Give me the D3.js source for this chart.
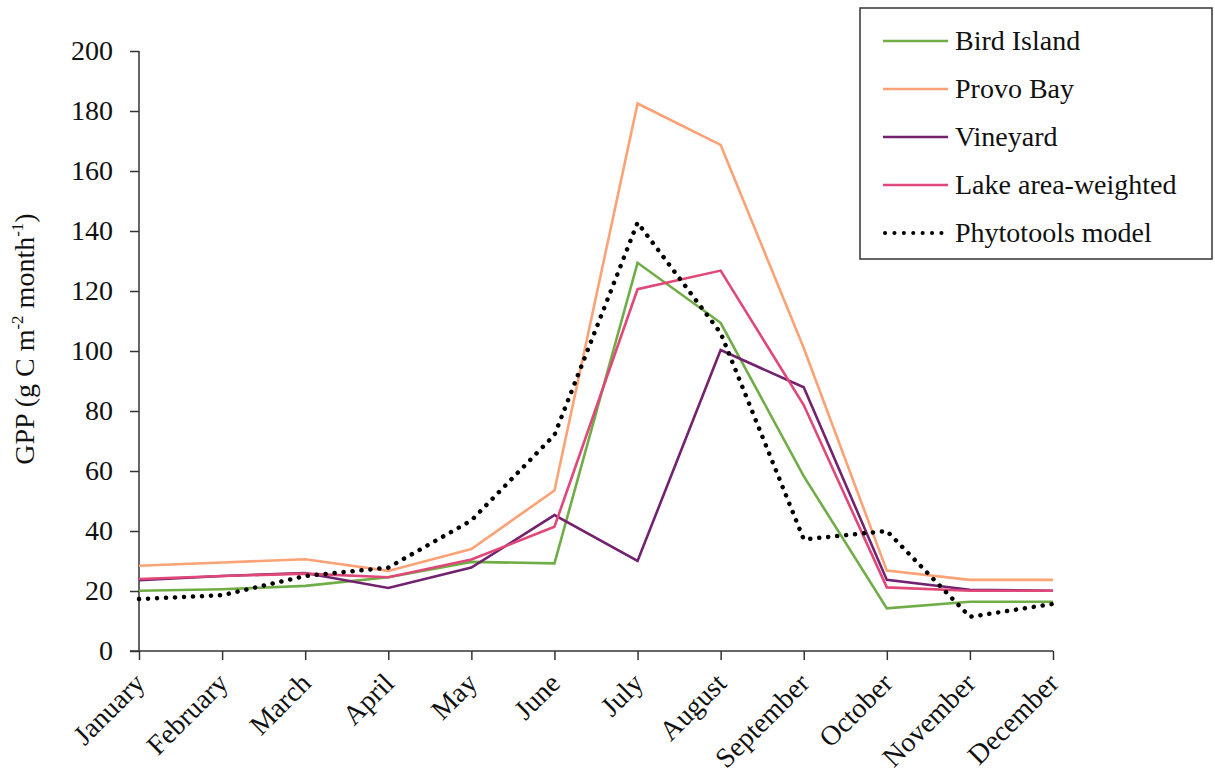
<!DOCTYPE html>
<html>
<head>
<meta charset="utf-8">
<script src="https://cdn.jsdelivr.net/npm/d3@7"></script>
<style>
  html, body { margin: 0; padding: 0; background: #fff; }
  svg { display: block; }
  svg text { font-family: "Liberation Serif", "Times New Roman", Times, "DejaVu Serif", "Noto Serif", serif; }
</style>
</head>
<body>
<svg id="chart" width="1215" height="775"></svg>
<script>
// Monthly gross primary production (g C m-2 month-1)
const months = ["January","February","March","April","May","June","July","August","September","October","November","December"];
const birdIsland    = [20.1, 20.6, 21.7, 24.6, 29.7, 29.2, 129.4, 109.4, 58.3, 14.2, 16.4, 16.4];
const provoBay      = [28.4, 29.5, 30.6, 26.7, 34.0, 53.5, 182.5, 168.7, 101.0, 26.8, 23.7, 23.7];
const vineyard      = [23.6, 25.0, 26.0, 21.0, 27.8, 45.3, 30.0, 100.3, 87.9, 23.7, 20.4, 20.1];
const lakeWeighted  = [24.0, 25.0, 25.8, 24.6, 30.5, 41.4, 120.6, 126.8, 82.0, 21.2, 20.1, 20.1];
const phytotools    = [17.3, 18.6, 25.0, 27.8, 43.5, 72.0, 142.8, 106.0, 37.2, 40.0, 11.4, 15.7];
const yTicks = [0, 20, 40, 60, 80, 100, 120, 140, 160, 180, 200];

const seriesNames  = ["Bird Island", "Provo Bay", "Vineyard", "Lake area-weighted", "Phytotools model"];
const seriesValues = [birdIsland, provoBay, vineyard, lakeWeighted, phytotools];

const styles = [
  { color: "#70ad47", dotted: false },
  { color: "#fba276", dotted: false },
  { color: "#72226e", dotted: false },
  { color: "#df4878", dotted: false },
  { color: "#000000", dotted: true }
];
const series = seriesNames.map((name, i) => ({ name, values: seriesValues[i], ...styles[i] }));

const FONT = '"Liberation Serif", "Times New Roman", Times, "DejaVu Serif", serif';
const svg = d3.select("#chart");
const plot = { left: 139, right: 1053, top: 51, bottom: 651 };

const x = d3.scalePoint().domain(months).range([plot.left, plot.right]);
const y = d3.scaleLinear().domain([0, 200]).range([plot.bottom, plot.top]);

// Y axis
const yAxis = svg.append("g")
  .attr("transform", `translate(${plot.left},0)`)
  .call(d3.axisLeft(y).tickValues(yTicks).tickSize(9).tickPadding(17));
yAxis.select(".domain").attr("stroke", "#333").attr("stroke-width", 1.5)
  .attr("d", `M0,${plot.bottom}V${plot.top}`);
yAxis.selectAll(".tick line").attr("stroke", "#333").attr("stroke-width", 1.5);
yAxis.selectAll(".tick text")
  .style("font-family", FONT).style("font-size", "28px")
  .attr("fill", "#111");

// X axis
const xAxis = svg.append("g")
  .attr("transform", `translate(0,${plot.bottom})`)
  .call(d3.axisBottom(x).tickSizeOuter(0).tickSizeInner(9));
xAxis.select(".domain").attr("stroke", "#333").attr("stroke-width", 1.5)
  .attr("d", `M${plot.left - 9},0H${plot.right}`);
xAxis.selectAll(".tick line").attr("stroke", "#333").attr("stroke-width", 1.5);
xAxis.selectAll(".tick text")
  .style("font-family", FONT).style("font-size", "28px")
  .attr("fill", "#111")
  .attr("text-anchor", "end")
  .attr("x", 0).attr("y", 0).attr("dy", "0.3em")
  .attr("transform", "translate(1,28) rotate(-45)");

// Y axis title with superscripts
const yTitle = svg.append("text")
  .attr("transform", `translate(34,${(plot.top + plot.bottom) / 2 - 12}) rotate(-90)`)
  .attr("text-anchor", "middle")
  .style("font-family", FONT).style("font-size", "28px")
  .attr("fill", "#111");
yTitle.append("tspan").text("GPP (g C m");
yTitle.append("tspan").style("font-size", "17px").attr("dy", -11).text("-2");
yTitle.append("tspan").attr("dy", 11).text(" month");
yTitle.append("tspan").style("font-size", "17px").attr("dy", -11).text("-1");
yTitle.append("tspan").attr("dy", 11).text(")");

// Lines
const line = d3.line()
  .x((d, i) => x(months[i]))
  .y(d => y(d));

svg.append("g").selectAll("path")
  .data(series)
  .join("path")
  .attr("d", d => line(d.values))
  .attr("fill", "none")
  .attr("stroke", d => d.color)
  .attr("stroke-width", d => d.dotted ? 4.5 : 2.6)
  .attr("stroke-linecap", d => d.dotted ? "round" : "butt")
  .attr("stroke-linejoin", "miter")
  .attr("stroke-dasharray", d => d.dotted ? "0.1 8.9" : null);

// Legend
const legend = svg.append("g").attr("transform", "translate(860,8)");
legend.append("rect")
  .attr("width", 352).attr("height", 251)
  .attr("fill", "#fff").attr("stroke", "#333").attr("stroke-width", 1.5);
const item = legend.selectAll("g.item")
  .data(series)
  .join("g")
  .attr("class", "item")
  .attr("transform", (d, i) => `translate(0,${33 + i * 48})`);
item.append("line")
  .attr("x1", d => d.dotted ? 25 : 23).attr("x2", 88)
  .attr("stroke", d => d.color)
  .attr("stroke-width", d => d.dotted ? 4 : 2.6)
  .attr("stroke-linecap", d => d.dotted ? "round" : "butt")
  .attr("stroke-dasharray", d => d.dotted ? "0.1 9.3" : null);
item.append("text")
  .attr("x", 95).attr("y", 9)
  .style("font-family", FONT).style("font-size", "28px")
  .attr("fill", "#111")
  .text(d => d.name);
</script>
</body>
</html>
